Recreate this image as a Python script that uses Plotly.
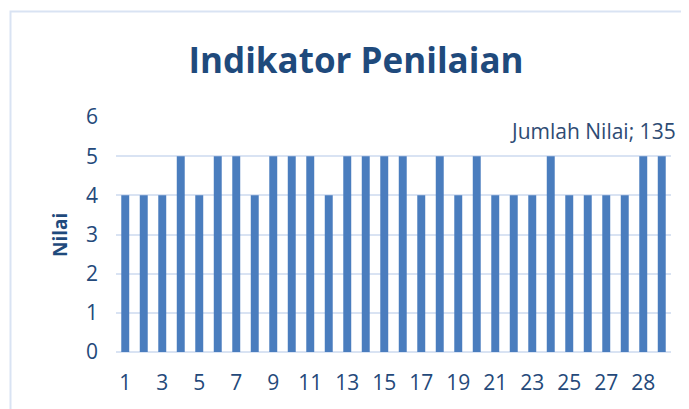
import plotly.graph_objects as go

# Data
positions = list(range(1, 31))
category_labels = [str(i) for i in range(1, 28)] + ["", "28", ""]
values = [4, 4, 4, 5, 4, 5, 5, 4, 5, 5, 5, 4, 5, 5, 5,
          5, 4, 5, 4, 5, 4, 4, 4, 5, 4, 4, 4, 4, 5, 5]
series_name = "Jumlah Nilai"
total_label = 135
y_ticks = [0, 1, 2, 3, 4, 5, 6]

tick_pos = positions[0::2]
tick_text = category_labels[0::2]

TXT = "#24497A"
GRID = "#D9E3F3"
FONT = "Open Sans"

# page body has an 8px margin -> figure origin at (8, 8) in the window
OFF = 8
W, H = 689 - OFF, 409 - OFF
PL, PR, PT, PB = 116, 671, 117, 352  # plot area in window px
PW, PH = PR - PL, PB - PT

def px_x(x):
    return (x - PL) / PW

def px_y(y):
    return (PB - y) / PH

fig = go.Figure()
fig.add_trace(go.Bar(
    x=positions, y=values, name=series_name,
    width=0.43,
    marker=dict(color="#4A7DBE", line=dict(width=0)),
))

fig.update_layout(
    width=W, height=H,
    margin=dict(l=PL - OFF, r=689 - PR, t=PT - OFF, b=409 - PB, pad=0),
    paper_bgcolor="white", plot_bgcolor="white",
    showlegend=False,
    font=dict(family=FONT, color=TXT, size=21),
    title=dict(text="<b>Indikator Penilaian</b>", x=(356 - OFF) / W, xanchor="center",
               y=1 - (61 - OFF) / H, yanchor="middle", yref="container",
               font=dict(family=FONT, size=35, color="#1F4A7C")),
    xaxis=dict(range=[0.5, 30.5], tickmode="array", tickvals=tick_pos,
               ticktext=tick_text, showgrid=False, zeroline=False,
               showline=False, ticks="", ticklabelstandoff=16,
               tickfont=dict(family=FONT, size=21, color=TXT)),
    yaxis=dict(range=[0, 6], tickmode="array", tickvals=y_ticks,
               showgrid=True, gridcolor=GRID, gridwidth=1.5,
               zeroline=True, zerolinecolor=GRID, zerolinewidth=1.5,
               showline=False, ticks="", ticklabelstandoff=17,
               tickfont=dict(family=FONT, size=21, color=TXT)),
    annotations=[
        dict(text="<b>Nilai</b>", xref="paper", yref="paper",
             x=px_x(60), y=px_y(235), textangle=-90, showarrow=False,
             xanchor="center", yanchor="middle",
             font=dict(family=FONT, size=19, color="#1F4A7C")),
        dict(text=f"{series_name}; {total_label}", xref="paper", yref="paper",
             x=px_x(678), y=px_y(131), showarrow=False,
             xanchor="right", yanchor="middle",
             font=dict(family=FONT, size=21, color="#2E4B73")),
    ],
    shapes=[
        dict(type="rect", xref="paper", yref="paper",
             x0=px_x(10.5), x1=1.2,
             y0=-0.5, y1=px_y(11.5),
             line=dict(color=GRID, width=2), fillcolor="rgba(0,0,0,0)",
             layer="below"),
    ],
)

fig.write_html("out.html")
